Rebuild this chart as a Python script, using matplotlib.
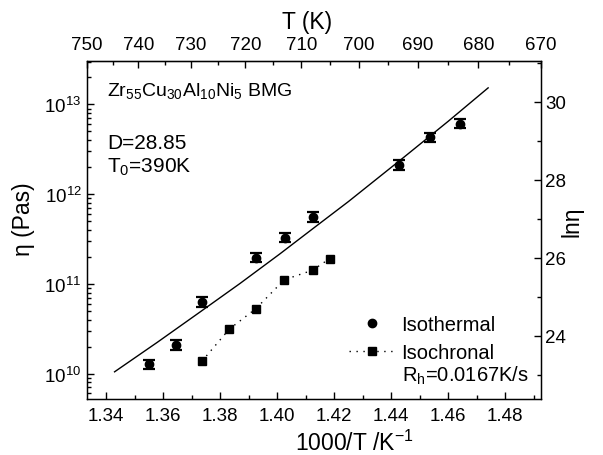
import numpy as np
import matplotlib
matplotlib.use("Agg")
import matplotlib.pyplot as plt
from matplotlib.ticker import FixedLocator, LogLocator, NullFormatter, MultipleLocator
from matplotlib.lines import Line2D

plt.rcParams['font.family'] = ['Liberation Sans', 'DejaVu Sans']
plt.rcParams['mathtext.fontset'] = 'custom'
plt.rcParams['mathtext.rm'] = 'Liberation Sans'
plt.rcParams['mathtext.it'] = 'Liberation Sans:italic'
plt.rcParams['mathtext.default'] = 'regular'

# ---- data ----
iso_x = [1.3551, 1.3644, 1.3736, 1.3927, 1.4026, 1.4125, 1.4427, 1.4535, 1.4642]
iso_eta = [1.27e10, 2.10e10, 6.3e10, 1.96e11, 3.27e11, 5.6e11, 2.13e12, 4.29e12, 6.1e12]
iso_err = [0.15e10, 0.25e10, 0.75e10, 0.23e11, 0.38e11, 0.65e11, 0.25e12, 0.5e12, 0.7e12]

chron_x = [1.3736, 1.3832, 1.3926, 1.4025, 1.4125, 1.4184]
chron_eta = [1.37e10, 3.12e10, 5.30e10, 1.11e11, 1.42e11, 1.91e11]

fit_x = [1.343, 1.358, 1.373, 1.387, 1.401, 1.413, 1.425, 1.444, 1.460, 1.474]
fit_eta = [1.045e10, 2.23e10, 4.86e10, 1.01e11, 2.16e11, 4.23e11, 8.26e11, 2.51e12, 6.49e12, 1.53e13]

top_T_ticks = [750, 740, 730, 720, 710, 700, 690, 680, 670]
top_T_minor = [745, 735, 725, 715, 705, 695, 685, 675]
right_ticks = [24, 26, 28, 30]

W, H = 603, 456
AX_L, AX_R, AX_T, AX_B = 87, 541, 62, 400
AX_W, AX_H = AX_R - AX_L, AX_B - AX_T
fig = plt.figure(figsize=(6.03, 4.56), dpi=100)
ax = fig.add_axes([AX_L/W, (H - AX_B)/H, AX_W/W, AX_H/H])

def axfrac(px, py):
    return (px - AX_L) / AX_W, (AX_B - py) / AX_H

ax.plot(fit_x, fit_eta, color='black', lw=1.0, zorder=2)
ax.errorbar(iso_x, iso_eta, yerr=iso_err, fmt='o', color='black', ms=6,
            elinewidth=1.0, capsize=4.5, capthick=1.6, zorder=3)
ax.plot(chron_x, chron_eta, linestyle=(0, (1, 4)), color='black', lw=1.0,
        marker='s', ms=6, zorder=3)

ax.set_yscale('log')
ax.set_xlim(1000/750, 1000/670)
ax.set_ylim(5.2e9, 3.05e13)
ax.xaxis.set_major_locator(MultipleLocator(0.02))
ax.xaxis.set_minor_locator(MultipleLocator(0.01))
ax.yaxis.set_major_locator(LogLocator(base=10, numticks=10))
ax.yaxis.set_minor_locator(LogLocator(base=10, subs=np.arange(2, 10), numticks=20))
ax.yaxis.set_minor_formatter(NullFormatter())
ax.xaxis.set_major_formatter(matplotlib.ticker.FormatStrFormatter('%.2f'))

ax.tick_params(which='both', direction='in', labelsize=13.5, width=1.0)
ax.tick_params(which='major', length=5)
ax.tick_params(which='minor', length=3)
ax.tick_params(axis='x', pad=6)
ax.tick_params(axis='y', pad=4)
for s in ax.spines.values():
    s.set_linewidth(1.0)

ax.set_xlabel(r'1000/T /K$^{-1}$', fontsize=16.5)
ax.xaxis.set_label_coords(0.588, -0.092)
ax.set_ylabel(r'η (Pas)', fontsize=16.5)
ax.yaxis.set_label_coords(-0.115, 0.535)

# top axis: temperature
def fwd(x):
    x = np.asarray(x, dtype=float)
    with np.errstate(divide='ignore'):
        return np.where(x == 0, np.inf, 1000.0 / np.where(x == 0, 1, x))
top = ax.secondary_xaxis('top', functions=(fwd, fwd))
top.xaxis.set_major_locator(FixedLocator(top_T_ticks))
top.xaxis.set_minor_locator(FixedLocator(top_T_minor))
top.xaxis.set_major_formatter(matplotlib.ticker.FormatStrFormatter('%d'))
top.tick_params(which='both', direction='in', labelsize=13.5, width=1.0, pad=5.5)
top.tick_params(which='major', length=5)
top.tick_params(which='minor', length=3)
fig.text(307/W, 1 - 29/H, 'T (K)', fontsize=16.5, ha='center', va='baseline')

# right axis: ln(eta)
ax2 = ax.twinx()
ax2.set_ylim(np.log(5.2e9), np.log(3.05e13))
ax2.yaxis.set_major_locator(FixedLocator(right_ticks))
ax2.yaxis.set_minor_locator(MultipleLocator(1))
ax2.tick_params(which='both', direction='in', labelsize=13.5, width=1.0, pad=3)
ax2.tick_params(which='major', length=5)
ax2.tick_params(which='minor', length=3)
fig.text(572/W, 1 - 222/H, 'lnη', fontsize=16.5, rotation=90, ha='center', va='center')

# annotations
ax.text(*axfrac(107, 96), r'Zr$_{55}$Cu$_{30}$Al$_{10}$Ni$_{5}$ BMG', transform=ax.transAxes,
        fontsize=14, va='baseline')
ax.text(*axfrac(107, 149), 'D=28.85', transform=ax.transAxes, fontsize=15, va='baseline')
ax.text(*axfrac(107, 173), r'T$_0$=390K', transform=ax.transAxes, fontsize=15, va='baseline')

handles = [Line2D([], [], color='black', marker='o', ms=6, linestyle='none'),
           Line2D([], [], color='black', marker='s', ms=6, linestyle=(0, (1, 4)), lw=1.0)]
leg = ax.legend(handles, ['Isothermal', 'Isochronal'], loc='upper left',
                bbox_to_anchor=axfrac(349, 316), frameon=False,
                fontsize=14.5, handlelength=2.3, handletextpad=0.3, labelspacing=0.45,
                borderaxespad=0, borderpad=0)
ax.text(*axfrac(401.7, 381.7), r'R$_h$=0.0167K/s', transform=ax.transAxes,
        fontsize=14.5, va='baseline')

fig.savefig('out.png', dpi=100)
